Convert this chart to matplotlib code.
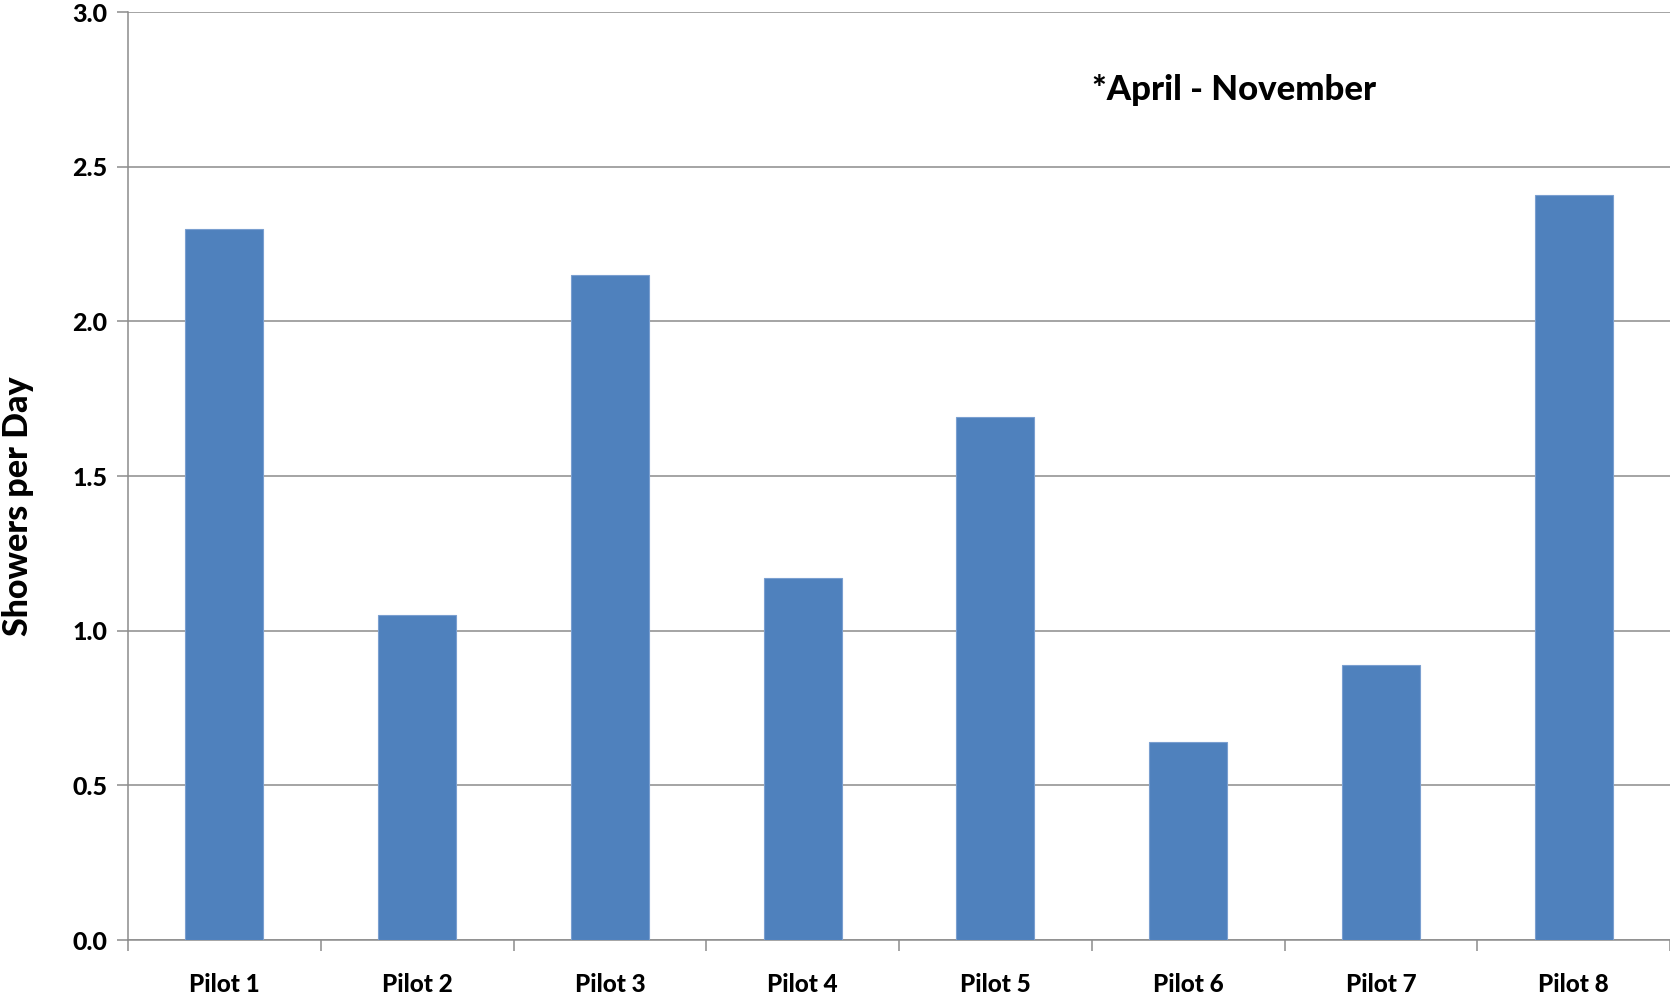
import matplotlib
matplotlib.use("Agg")
import matplotlib.pyplot as plt
import numpy as np

categories = ["Pilot 1", "Pilot 2", "Pilot 3", "Pilot 4", "Pilot 5", "Pilot 6", "Pilot 7", "Pilot 8"]
values = [2.30, 1.05, 2.15, 1.17, 1.69, 0.64, 0.89, 2.41]
y_ticks = [0.0, 0.5, 1.0, 1.5, 2.0, 2.5, 3.0]
y_tick_labels = ["0.0", "0.5", "1.0", "1.5", "2.0", "2.5", "3.0"]

plt.rcParams['font.family'] = ['Lato', 'DejaVu Sans']

fig = plt.figure(figsize=(16.70, 9.98), dpi=100)
ax = fig.add_axes([128/1670, 1 - 940/998, 1 - 128/1670, (940 - 12)/998])

x = np.arange(len(categories))
ax.bar(x, values, width=0.405, color="#4f81bd", edgecolor="#7a9fd0", linewidth=0.8, zorder=3)

ax.set_xlim(-0.5, len(categories) - 0.5)
ax.set_ylim(0, 3.0)

ax.set_yticks(y_ticks)
ax.set_yticklabels(y_tick_labels, fontsize=18, fontweight="black")
ax.yaxis.grid(True, color="#8c8c8c", linewidth=1.1, zorder=0)
ax.tick_params(axis="y", length=8, width=1.1, color="#8c8c8c", pad=7)

ax.set_xticks(x)
ax.set_xticklabels(categories, fontsize=17.5, fontweight="black")
ax.set_xticks(np.arange(-0.5, len(categories), 1.0), minor=True)
ax.tick_params(axis="x", which="major", length=0, pad=24)
ax.tick_params(axis="x", which="minor", length=8, width=1.1, color="#8c8c8c")

for s in ["top", "right"]:
    ax.spines[s].set_visible(False)
for s in ["left", "bottom"]:
    ax.spines[s].set_color("#8c8c8c")
    ax.spines[s].set_linewidth(1.1)

ax.set_ylabel("Showers per Day", fontsize=24.5, fontweight="black")
ax.yaxis.set_label_coords(-0.0713, 0.468)
ax.yaxis.label.set_va("center")

ax.text(0.625, 0.9155, "*April - November", transform=ax.transAxes,
        fontsize=25, fontweight="black", ha="left", va="center")

fig.savefig("out.png", dpi=100)
